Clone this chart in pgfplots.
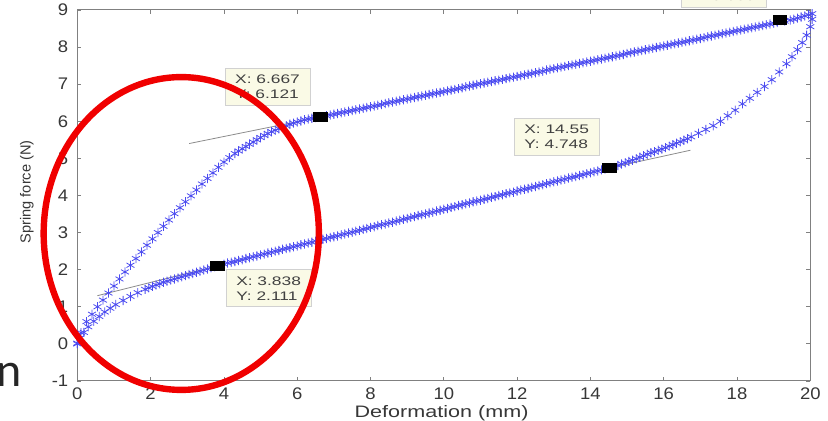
\documentclass[border=0pt]{standalone}
\usepackage{pgfplots}
\pgfplotsset{compat=1.18}
\usepackage{pgfplotstable}
\usepackage{fontspec}
\setmainfont[FakeStretch=1.1]{Liberation Sans}
\newfontfamily\xlfont[FakeStretch=1.3]{Liberation Sans}
\newfontfamily\ylfont{Liberation Sans}
\newfontfamily\tipfont[FakeStretch=1.4]{Liberation Sans}
\newfontfamily\slidefont{Carlito}
\definecolor{mk}{RGB}{75,75,240}
\definecolor{tipbg}{RGB}{250,250,230}
\definecolor{tk}{RGB}{55,55,55}
\definecolor{ring}{RGB}{240,0,0}

% loading branch (upper)
\pgfplotstableread{
x y
0 0
0.1 0.3
0.25 0.6
0.4 0.8
0.55 1.0
0.7 1.18
0.85 1.37
1.0 1.56
1.15 1.75
1.3 1.94
1.45 2.12
1.6 2.30
1.75 2.48
1.9 2.66
2.05 2.83
2.2 3.0
2.35 3.17
2.5 3.34
2.65 3.51
2.8 3.67
2.95 3.83
3.1 3.99
3.25 4.15
3.4 4.31
3.55 4.46
3.7 4.61
3.85 4.76
4.0 4.90
4.15 5.02
4.3 5.13
4.5 5.26
4.7 5.38
4.9 5.50
5.1 5.62
5.3 5.72
5.5 5.80
5.7 5.88
5.9 5.95
6.1 6.01
6.3 6.06
6.5 6.10
6.8 6.15
7.0 6.19
7.2 6.23
7.4 6.27
7.6 6.31
7.8 6.35
8.0 6.39
8.2 6.43
8.4 6.48
8.6 6.52
8.8 6.56
9.0 6.60
9.2 6.64
9.4 6.68
9.6 6.72
9.8 6.76
10.0 6.80
10.2 6.84
10.4 6.88
10.6 6.93
10.8 6.97
11.0 7.01
11.2 7.05
11.4 7.09
11.6 7.13
11.8 7.17
12.0 7.21
12.2 7.25
12.4 7.29
12.6 7.33
12.8 7.38
13.0 7.42
13.2 7.46
13.4 7.50
13.6 7.54
13.8 7.58
14.0 7.62
14.2 7.66
14.4 7.70
14.6 7.74
14.8 7.78
15.0 7.83
15.2 7.87
15.4 7.91
15.6 7.95
15.8 7.99
16.0 8.03
16.2 8.07
16.4 8.11
16.6 8.15
16.8 8.19
17.0 8.23
17.2 8.28
17.4 8.32
17.6 8.36
17.8 8.40
18.0 8.44
18.2 8.48
18.4 8.52
18.6 8.56
18.8 8.60
19.0 8.64
19.45 8.73
19.65 8.78
19.85 8.84
20.05 8.90
}\loading

% loading branch, intermediate samples
\pgfplotstableread{
x y
4.4 5.20
4.6 5.32
4.8 5.44
5.0 5.56
5.2 5.67
5.4 5.76
5.6 5.84
5.8 5.92
6.0 5.98
6.2 6.04
6.4 6.08
6.9 6.17
7.1 6.21
7.3 6.25
7.5 6.29
7.7 6.33
7.9 6.37
8.1 6.41
8.3 6.45
8.5 6.50
8.7 6.54
8.9 6.58
9.1 6.62
9.3 6.66
9.5 6.70
9.7 6.74
9.9 6.78
10.1 6.82
10.3 6.86
10.5 6.90
10.7 6.95
10.9 6.99
11.1 7.03
11.3 7.07
11.5 7.11
11.7 7.15
11.9 7.19
12.1 7.23
12.3 7.27
12.5 7.31
12.7 7.35
12.9 7.40
13.1 7.44
13.3 7.48
13.5 7.52
13.7 7.56
13.9 7.60
14.1 7.64
14.3 7.68
14.5 7.72
14.7 7.76
14.9 7.80
15.1 7.85
15.3 7.89
15.5 7.93
15.7 7.97
15.9 8.01
16.1 8.05
16.3 8.09
16.5 8.13
16.7 8.17
16.9 8.21
17.1 8.25
17.3 8.30
17.5 8.34
17.7 8.38
17.9 8.42
18.1 8.46
18.3 8.50
18.5 8.54
18.7 8.58
18.9 8.62
19.1 8.66
19.3 8.70
19.55 8.75
19.75 8.81
19.95 8.87
}\loadingb

% unloading branch (lower)
\pgfplotstableread{
x y
20.05 8.75
20.0 8.55
19.9 8.32
19.78 8.12
19.65 7.93
19.5 7.74
19.35 7.55
19.15 7.33
18.95 7.12
18.75 6.94
18.55 6.78
18.35 6.62
18.15 6.47
17.95 6.30
17.75 6.15
17.55 6.00
17.35 5.88
17.15 5.78
16.95 5.68
16.75 5.58
16.55 5.49
16.35 5.41
16.15 5.33
15.95 5.25
15.75 5.18
15.55 5.11
15.35 5.03
15.15 4.95
14.95 4.88
14.75 4.81
14.4 4.71
14.2 4.66
14.0 4.61
13.8 4.56
13.6 4.51
13.4 4.47
13.2 4.42
13.0 4.37
12.8 4.32
12.6 4.27
12.4 4.22
12.2 4.17
12.0 4.12
11.8 4.07
11.6 4.02
11.4 3.97
11.2 3.92
11.0 3.87
10.8 3.83
10.6 3.78
10.4 3.73
10.2 3.68
10.0 3.63
9.8 3.58
9.6 3.53
9.4 3.48
9.2 3.43
9.0 3.38
8.8 3.33
8.6 3.28
8.4 3.23
8.2 3.19
8.0 3.14
7.8 3.09
7.6 3.04
7.4 2.99
7.2 2.94
7.0 2.89
6.8 2.84
6.6 2.79
6.4 2.74
6.2 2.69
6.0 2.64
5.8 2.59
5.6 2.55
5.4 2.50
5.2 2.45
5.0 2.40
4.8 2.35
4.6 2.30
4.4 2.25
4.2 2.20
4.0 2.15
3.65 2.05
3.45 1.99
3.25 1.93
3.05 1.87
2.85 1.81
2.65 1.75
2.45 1.69
2.25 1.62
2.05 1.55
1.85 1.47
1.65 1.38
1.45 1.28
1.25 1.17
1.05 1.06
0.9 0.96
0.75 0.86
0.6 0.74
0.45 0.61
0.3 0.46
0.18 0.31
0.08 0.16
0.0 0.02
}\unloading

% unloading branch, intermediate samples
\pgfplotstableread{
x y
16.65 5.53
16.45 5.45
16.25 5.37
16.05 5.29
15.85 5.22
15.65 5.15
15.45 5.07
15.25 4.99
15.05 4.92
14.85 4.85
14.3 4.69
14.1 4.64
13.9 4.59
13.7 4.54
13.5 4.49
13.3 4.44
13.1 4.39
12.9 4.34
12.7 4.29
12.5 4.24
12.3 4.19
12.1 4.15
11.9 4.09
11.7 4.05
11.5 4.00
11.3 3.95
11.1 3.90
10.9 3.85
10.7 3.80
10.5 3.75
10.3 3.70
10.1 3.65
9.9 3.60
9.7 3.55
9.5 3.50
9.3 3.46
9.1 3.41
8.9 3.36
8.7 3.31
8.5 3.26
8.3 3.21
8.1 3.16
7.9 3.11
7.7 3.06
7.5 3.01
7.3 2.96
7.1 2.91
6.9 2.87
6.7 2.82
6.5 2.77
6.3 2.72
6.1 2.67
5.9 2.62
5.7 2.57
5.5 2.52
5.3 2.47
5.1 2.42
4.9 2.37
4.7 2.32
4.5 2.27
4.3 2.22
4.1 2.18
3.75 2.08
3.55 2.02
3.35 1.96
3.15 1.90
2.95 1.84
2.75 1.78
2.55 1.72
2.35 1.66
2.15 1.59
1.95 1.51
}\unloadingb

\tikzset{tipbox/.style={draw=black!18, fill=tipbg, minimum width=42.5pt, minimum height=18.5pt,
  align=left, inner sep=1pt, text=black!75, font=\tipfont\fontsize{6.2}{7.5}\selectfont},
  dat/.style={only marks, mark=asterisk, mark size=2.3pt, mark options={mk, line width=0.4pt}}}

\begin{document}
\begin{tikzpicture}
\begin{axis}[
  at={(0,0)}, anchor=south west,
  scale only axis, width=366.5pt, height=185.5pt,
  xmin=0, xmax=20, ymin=-1, ymax=9,
  xtick={0,2,...,20}, ytick={-1,0,...,9},
  axis line style={black!50, line width=0.5pt},
  tick style={black!50, line width=0.4pt},
  major tick length=2pt,
  tick align=inside,
  ticklabel style={font=\fontsize{8.4}{9}\selectfont, text=tk},
  yticklabel style={xshift=-1pt},
  /pgf/number format/assume math mode=true,
  clip=false,
  xlabel={Deformation (mm)},
  ylabel={Spring force (N)},
  xlabel style={at={(axis description cs:0.497,-0.086)}, anchor=center, font=\xlfont\fontsize{8.3}{9}\selectfont, text=tk},
  ylabel style={at={(axis description cs:-0.0688,0.51)}, anchor=center, font=\ylfont\fontsize{7.3}{8}\selectfont, text=tk},
]
\addplot[dat] table {\loading};
\addplot[dat] table {\loadingb};
\addplot[dat] table {\unloading};
\addplot[dat] table {\unloadingb};
\addplot[black!45, line width=0.4pt] coordinates {(3.05,5.4) (6.6,6.11)};
\addplot[black!45, line width=0.4pt] coordinates {(0.55,1.3) (3.8,2.1)};
\addplot[black!45, line width=0.4pt] coordinates {(14.55,4.748) (16.73,5.22)};
\addplot[only marks, mark=square*, mark size=2.25pt, mark options={xscale=1.55, fill=black, draw=black}]
  coordinates {(6.63,6.121) (3.82,2.111) (14.52,4.748) (19.17,8.72)};
\node[tipbox] at (axis cs:5.19,6.94) {X: 6.667\\Y: 6.121};
\node[tipbox] at (axis cs:5.22,1.50) {X: 3.838\\Y: 2.111};
\node[tipbox] at (axis cs:13.08,5.57) {X: 14.55\\Y: 4.748};
\node[tipbox] at (axis cs:17.64,9.57) {X: 19.17\\Y: 8.685};
\end{axis}
\draw[ring, line width=3.2pt] (51.98pt,73.75pt) ellipse [x radius=68.8pt, y radius=78.2pt];
\node[anchor=base east, inner sep=0pt, text=black!85, font=\slidefont\fontsize{24}{26}\selectfont] at (-27.65pt,-3pt) {n};
\pgfresetboundingbox
\useasboundingbox (-38.65pt,-20pt) rectangle (375.35pt,190.5pt);
\end{tikzpicture}
\end{document}
